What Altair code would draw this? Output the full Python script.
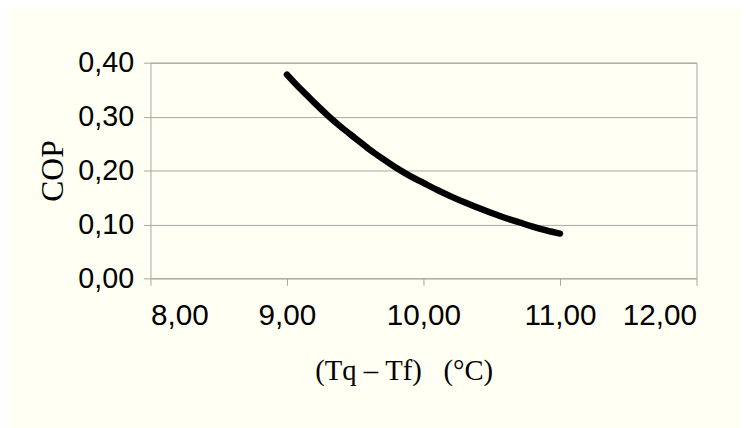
import altair as alt
import pandas as pd

# Temperature difference (Tq - Tf) in °C and COP values
delta_t = [9.0, 9.1, 9.2, 9.3, 9.4, 9.5, 9.6, 9.7, 9.8, 9.9, 10.0,
           10.1, 10.2, 10.3, 10.4, 10.5, 10.6, 10.7, 10.8, 10.9, 11.0]
cop = [0.378, 0.351, 0.326, 0.302, 0.280, 0.260, 0.240, 0.222, 0.205, 0.190, 0.177,
       0.164, 0.152, 0.141, 0.131, 0.121, 0.112, 0.104, 0.096, 0.089, 0.083]

x_ticks = [8, 9, 10, 11, 12]
y_ticks = [0.0, 0.1, 0.2, 0.3, 0.4]

df = pd.DataFrame({"dt": delta_t, "cop": cop})

BG = "#FFFFF3"
GRID = "#A6A6A6"
SANS = "Liberation Sans Narrow, Arial Narrow, Liberation Sans, Arial"
SERIF = "Liberation Serif, Times New Roman, serif"
NB = "\u00a0"

chart = (
    alt.Chart(df)
    .mark_line(color="black", strokeWidth=6.5, strokeCap="round", strokeJoin="round", interpolate="monotone")
    .encode(
        x=alt.X(
            "dt:Q",
            scale=alt.Scale(domain=[8, 12], nice=False, zero=False),
            axis=alt.Axis(
                values=x_ticks,
                labelExpr="replace(format(datum.value, '.2f'), '.', ',')",
                title=f"(Tq{NB}–{NB}Tf){NB}{NB}{NB}(°C)",
                grid=False,
                domain=False,
                tickColor=GRID,
                tickSize=7,
                labelFont=SANS,
                labelFontSize=30,
                labelColor="black",
                labelPadding=16,
                titleFont=SERIF,
                titleFontSize=29,
                titleFontWeight="normal",
                titleColor="black",
                titlePadding=26,
                titleX=256,
                titleAlign="center",
            ),
        ),
        y=alt.Y(
            "cop:Q",
            scale=alt.Scale(domain=[0, 0.4], nice=False),
            axis=alt.Axis(
                values=y_ticks,
                labelExpr="replace(format(datum.value, '.2f'), '.', ',')",
                title="COP",
                grid=True,
                gridColor=GRID,
                domain=False,
                tickColor=GRID,
                tickSize=7,
                labelFont=SANS,
                labelFontSize=29,
                labelColor="black",
                labelPadding=10,
                titleFont=SERIF,
                titleFontSize=32,
                titleFontWeight="normal",
                titleColor="black",
                titlePadding=8,
            ),
        ),
    )
    .properties(
        width=552,
        height=218,
        background=BG,
        autosize=alt.AutoSizeParams(type="none"),
        padding={"left": 144, "top": 53, "right": 45, "bottom": 149},
    )
    .configure_view(stroke=GRID, strokeWidth=1, fill=BG)
)

chart.save("out.html", embed_options={"renderer": "svg", "actions": False})
